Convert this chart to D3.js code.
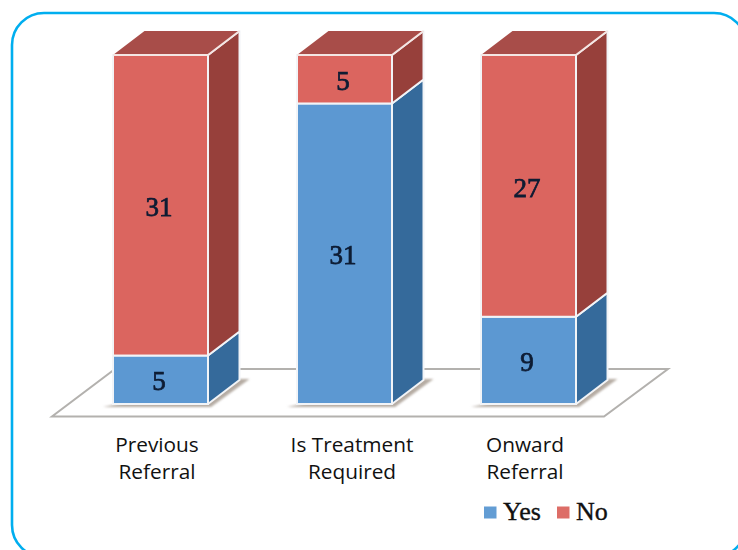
<!DOCTYPE html>
<html><head><meta charset="utf-8">
<script src="https://cdn.jsdelivr.net/npm/d3@7"></script>
<style>html,body{margin:0;padding:0;background:#fff;overflow:hidden}svg{display:block}</style>
</head><body><svg id="c" width="738" height="550"></svg>
<script>
const categories = [["Previous","Referral"],["Is Treatment","Required"],["Onward","Referral"]];
const categoryKeys = ["Previous Referral","Is Treatment Required","Onward Referral"];
const yesValues = [5,31,9];
const noValues = [31,5,27];
const seriesNames = ["Yes","No"];
const svg = d3.select("#c");
const x = d3.scaleBand().domain(categoryKeys).range([68.5,620.5]).paddingInner(89/184).paddingOuter(89/368);
const y = d3.scaleLinear().domain([0,36]).range([404,55]);
const dx=31.5, dy=-24;
const colors = {
  Yes:{front:"#5b98d2",side:"#356a9b",top:"#4a80b4"},
  No:{front:"#db655f",side:"#973f3b",top:"#a84d48"}
};
const defs = svg.append("defs");
const blur = defs.append("filter").attr("id","soft").attr("x","-10%").attr("y","-10%").attr("width","120%").attr("height","120%");
blur.append("feGaussianBlur").attr("stdDeviation",0.45);
const sh = defs.append("filter").attr("id","sh").attr("x","-20%").attr("y","-50%").attr("width","140%").attr("height","200%");
sh.append("feGaussianBlur").attr("stdDeviation",1);

svg.append("rect").attr("x",12).attr("y",13).attr("width",734).attr("height",544).attr("rx",32)
  .attr("fill","none").attr("stroke","#00aeef").attr("stroke-width",2.6);

const g = svg.append("g").attr("filter","url(#soft)");
const line = d3.line();
g.append("path").attr("d",line([[52,416.5],[604,416.5],[668,369],[115,369]])+"Z")
  .attr("fill","#fff").attr("stroke","#b3b1ae").attr("stroke-width",2);

categoryKeys.forEach((k,i)=>{
  const x0=x(k), x1=x0+x.bandwidth();
  g.append("path").attr("d",line([[x0-10,407],[x1+3,407],[x1+dx+10,y(0)+dy-1],[x1+dx,y(0)+dy-1],[x0,y(0)+1]])+"Z")
    .attr("fill","#b5aca3").attr("filter","url(#sh)");
  let base=0;
  [["Yes",yesValues[i]],["No",noValues[i]]].forEach(([s,v])=>{
    const y0=y(base), y1=y(base+v), c=colors[s];
    g.append("path").attr("d",line([[x1,y0],[x1+dx,y0+dy],[x1+dx,y1+dy],[x1,y1]])+"Z")
      .attr("fill",c.side).attr("stroke","#f2f4f7").attr("stroke-width",2).attr("stroke-linejoin","round");
    g.append("rect").attr("x",x0).attr("y",y1).attr("width",x.bandwidth()).attr("height",y0-y1)
      .attr("fill",c.front).attr("stroke","#f2f4f7").attr("stroke-width",2);
    if(s==="No"){
      g.append("path").attr("d",line([[x0,y1],[x1,y1],[x1+dx,y1+dy],[x0+dx,y1+dy]])+"Z")
        .attr("fill",c.top);
      g.append("path").attr("d",line([[x0,y1],[x1,y1],[x1+dx,y1+dy]]))
        .attr("fill","none").attr("stroke","#f4e6e4").attr("stroke-width",2);
    }
    g.append("text").attr("x",(x0+x1)/2-1.5).attr("y",(y0+y1)/2+1).attr("dy","0.36em")
      .attr("text-anchor","middle").attr("font-family","'Liberation Serif',serif").attr("font-size",27)
      .attr("fill","#0d1b33").attr("stroke","#0d1b33").attr("stroke-width",0.75).text(v);
    base+=v;
  });
  const t = svg.append("text").attr("text-anchor","middle").attr("font-family","'Open Sans',sans-serif")
    .attr("font-size",20.8).attr("fill","#111");
  categories[i].forEach((l,j)=>t.append("tspan").attr("x",[157,352,525][i]).attr("y",451.5+j*27).text(l));
});

const lx=[484,557];
seriesNames.forEach((s,i)=>{
  svg.append("rect").attr("x",lx[i]).attr("y",506.5).attr("width",12.5).attr("height",12).attr("fill",colors[s].front).attr("opacity",0.95);
  svg.append("text").attr("x",lx[i]+19).attr("y",520).attr("font-family","'Liberation Serif',serif")
    .attr("font-size",26).attr("fill","#111").attr("stroke","#111").attr("stroke-width",0.35).text(s);
});
</script></body></html>
